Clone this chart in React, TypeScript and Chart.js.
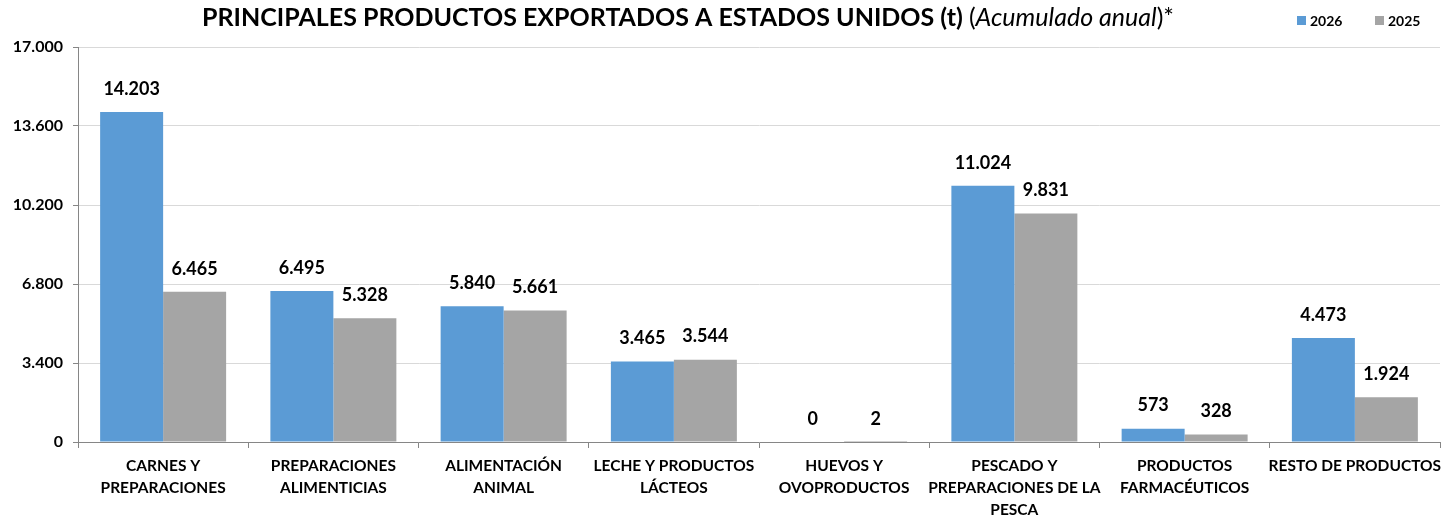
import React, { useEffect, useRef } from "react";
import { Chart, registerables } from "chart.js";

Chart.register(...registerables);

const categories: string[][] = [
  ["CARNES Y", "PREPARACIONES"],
  ["PREPARACIONES", "ALIMENTICIAS"],
  ["ALIMENTACIÓN", "ANIMAL"],
  ["LECHE Y PRODUCTOS", "LÁCTEOS"],
  ["HUEVOS Y", "OVOPRODUCTOS"],
  ["PESCADO Y", "PREPARACIONES DE LA", "PESCA"],
  ["PRODUCTOS", "FARMACÉUTICOS"],
  ["RESTO DE PRODUCTOS"],
];
const values2026: number[] = [14203, 6495, 5840, 3465, 0, 11024, 573, 4473];
const values2025: number[] = [6465, 5328, 5661, 3544, 2, 9831, 328, 1924];
const yTicks: number[] = [0, 3400, 6800, 10200, 13600, 17000];

const FONT = "Lato, 'Open Sans', 'Liberation Sans', sans-serif";
const BLUE = "#5B9BD5";
const GRAY = "#A5A5A5";

function fmt(n: number): string {
  return String(Math.round(n)).replace(/\B(?=(\d{3})+(?!\d))/g, ".");
}

const labelsPlugin = {
  id: "valueLabels",
  afterDatasetsDraw(chart: any) {
    const ctx = chart.ctx;
    ctx.save();
    ctx.font = `bold 18px ${FONT}`;
    ctx.fillStyle = "#000";
    ctx.textAlign = "center";
    ctx.textBaseline = "middle";
    chart.data.datasets.forEach((ds: any, i: number) => {
      const meta = chart.getDatasetMeta(i);
      meta.data.forEach((bar: any, j: number) => {
        ctx.fillText(fmt(ds.data[j]), bar.x, bar.y - 23);
      });
    });
    ctx.restore();
  },
};

const headerPlugin = {
  id: "header",
  afterDraw(chart: any) {
    const ctx = chart.ctx;
    ctx.save();
    ctx.textBaseline = "middle";
    ctx.fillStyle = "#000";
    const y = 18;
    const parts = [
      { t: "PRINCIPALES PRODUCTOS EXPORTADOS A ESTADOS UNIDOS (t) ", f: `bold 25px ${FONT}` },
      { t: "(", f: `25px ${FONT}` },
      { t: "Acumulado anual", f: `italic 25px ${FONT}` },
      { t: ")*", f: `25px ${FONT}` },
    ];
    let total = 0;
    parts.forEach((p) => {
      ctx.font = p.f;
      total += ctx.measureText(p.t).width;
    });
    let x = 688 - total / 2;
    ctx.textAlign = "left";
    parts.forEach((p) => {
      ctx.font = p.f;
      ctx.fillText(p.t, x, y);
      x += ctx.measureText(p.t).width;
    });
    // legend
    ctx.font = `bold 14px ${FONT}`;
    const items = [
      { label: "2026", color: BLUE, x: 1297 },
      { label: "2025", color: GRAY, x: 1375 },
    ];
    items.forEach((it) => {
      ctx.fillStyle = it.color;
      ctx.fillRect(it.x, 16, 9, 9);
      ctx.fillStyle = "#000";
      ctx.fillText(it.label, it.x + 13, 21);
    });
    ctx.restore();
  },
};

export default function App() {
  const ref = useRef<HTMLCanvasElement | null>(null);
  useEffect(() => {
    document.body.style.margin = "0";
    if (!ref.current) return;
    const chart = new Chart(ref.current, {
      type: "bar",
      data: {
        labels: categories,
        datasets: [
          { label: "2026", data: values2026, backgroundColor: BLUE, borderWidth: 0 },
          { label: "2025", data: values2025, backgroundColor: GRAY, borderWidth: 0 },
        ],
      },
      options: {
        responsive: false,
        animation: false,
        devicePixelRatio: 1,
        layout: { padding: { top: 47, left: 8, right: 2, bottom: 0 } },
        plugins: {
          legend: { display: false },
          title: { display: false },
          tooltip: { enabled: false },
        },
        datasets: {
          bar: { categoryPercentage: 0.74, barPercentage: 1 },
        },
        scales: {
          x: {
            grid: {
              offset: true,
              drawOnChartArea: false,
              drawTicks: true,
              tickLength: 6,
              color: "#868686",
            },
            border: { color: "#868686", width: 1 },
            ticks: {
              autoSkip: false,
              maxRotation: 0,
              minRotation: 0,
              color: "#000",
              padding: 7,
              font: { family: FONT, size: 15.5, weight: "bold", lineHeight: 1.42 },
            },
            afterFit: (scale: any) => {
              scale.height = 73;
              scale.paddingRight = 0;
              scale.paddingLeft = 0;
            },
          },
          y: {
            min: 0,
            max: 17000,
            afterBuildTicks: (scale: any) => {
              scale.ticks = yTicks.map((v) => ({ value: v }));
            },
            grid: {
              color: "#D9D9D9",
              drawTicks: true,
              tickLength: 5,
              tickColor: "#868686",
            },
            border: { color: "#868686", width: 1 },
            ticks: {
              color: "#000",
              padding: 10,
              font: { family: FONT, size: 16, weight: "bold" },
              callback: (v: any) => fmt(Number(v)),
            },
            afterFit: (scale: any) => {
              scale.width = 70;
              scale.paddingTop = 0;
              scale.paddingBottom = 0;
            },
          },
        },
      },
      plugins: [labelsPlugin, headerPlugin],
    } as any);
    return () => chart.destroy();
  }, []);
  return <canvas ref={ref} width={1442} height={515} style={{ display: "block" }} />;
}
